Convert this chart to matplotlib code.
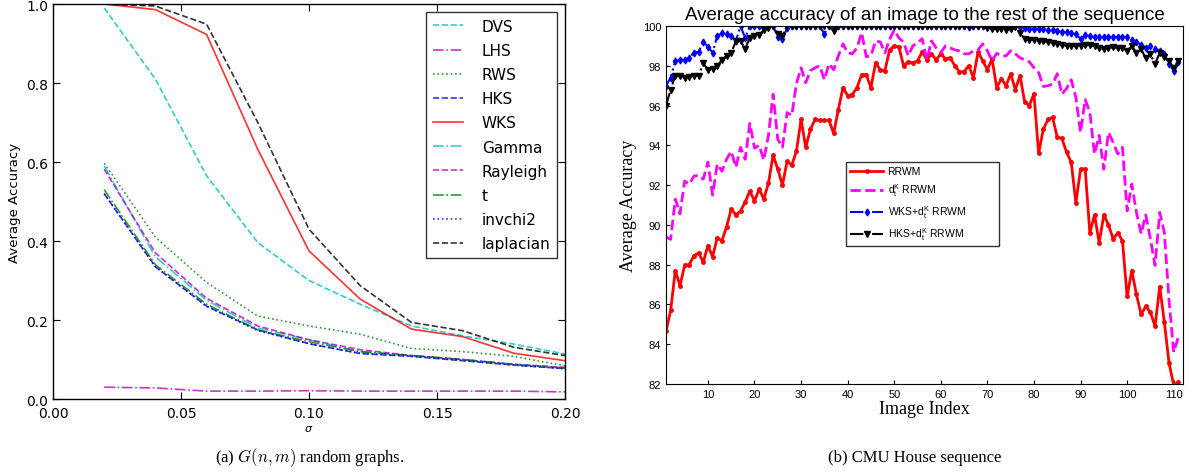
import numpy as np
import matplotlib
matplotlib.use('Agg')
import matplotlib.pyplot as plt

# ---- left panel data: G(n,m) random graphs ----
SIGMA = [0.02, 0.04, 0.06, 0.08, 0.10, 0.12, 0.14, 0.16, 0.18, 0.20]
DVS = [0.99, 0.81, 0.565, 0.396, 0.30, 0.24, 0.185, 0.16, 0.139, 0.114]
LHS = [0.030, 0.028, 0.020, 0.020, 0.021, 0.020, 0.020, 0.020, 0.020, 0.018]
RWS = [0.597, 0.41, 0.295, 0.21, 0.185, 0.164, 0.128, 0.12, 0.108, 0.084]
HKS = [0.52, 0.335, 0.235, 0.175, 0.14, 0.115, 0.108, 0.097, 0.086, 0.077]
WKS = [1.0, 0.986, 0.923, 0.632, 0.375, 0.253, 0.177, 0.158, 0.116, 0.097]
GAMMA = [0.59, 0.36, 0.25, 0.18, 0.15, 0.12, 0.11, 0.10, 0.088, 0.079]
RAYLEIGH = [0.582, 0.37, 0.255, 0.185, 0.15, 0.125, 0.11, 0.10, 0.088, 0.08]
T_DIST = [0.53, 0.34, 0.24, 0.175, 0.145, 0.12, 0.11, 0.10, 0.087, 0.078]
INVCHI2 = [0.52, 0.335, 0.235, 0.173, 0.14, 0.116, 0.109, 0.098, 0.086, 0.077]
LAPLACIAN = [1.0, 0.995, 0.949, 0.70, 0.43, 0.287, 0.194, 0.173, 0.131, 0.11]

# ---- right panel data: CMU House sequence, image index 1..111 ----
IMAGE_INDEX = list(range(1, 112))
RRWM = [84.65, 85.7, 87.7, 86.95, 87.96, 88.0, 88.46, 88.58, 88.13, 88.96,
        88.4, 89.35, 89.2, 89.9, 90.8, 90.5, 90.7, 91.15, 91.7, 91.2,
        91.8, 91.3, 92.1, 93.5, 92.8, 92.0, 93.2, 93.0, 93.7, 95.3,
        93.9, 94.8, 95.3, 95.25, 95.25, 95.25, 94.6, 95.8, 96.9, 96.5,
        96.55, 96.9, 97.55, 97.55, 96.9, 98.15, 97.8, 97.75, 98.8, 99.0,
        98.95, 98.0, 98.2, 98.15, 98.25, 98.7, 98.3, 98.6, 98.3, 98.6,
        98.35, 98.4, 98.0, 97.7, 97.7, 98.0, 97.4, 98.7, 98.25, 97.8,
        98.35, 96.9, 97.35, 97.0, 97.6, 96.8, 97.5, 96.2, 96.0, 96.6,
        93.6, 94.8, 95.3, 95.4, 94.4, 94.35, 93.65, 93.15, 91.1, 92.8,
        92.8, 89.6, 90.5, 89.1, 90.5, 90.0, 89.3, 89.6, 89.2, 86.4,
        87.7, 86.5, 85.5, 85.9, 85.6, 84.9, 86.9, 85.1, 83.05, 81.95,
        82.1]
DT_RRWM = [89.4, 89.27, 91.3, 90.55, 92.2, 92.05, 92.45, 92.5, 92.3, 93.15,
           91.5, 93.06, 92.7, 93.3, 93.7, 92.9, 93.9, 93.3, 95.1, 93.86,
           94.0, 93.26, 94.5, 96.57, 94.3, 93.9, 95.65, 95.5, 97.1, 97.9,
           97.15, 97.75, 97.9, 98.0, 97.3, 98.1, 97.8, 98.5, 99.1, 98.65,
           98.6, 98.9, 99.67, 98.46, 98.5, 99.25, 99.2, 98.65, 99.33, 99.8,
           99.4, 99.2, 98.5, 99.0, 99.16, 99.36, 98.3, 99.25, 98.9, 98.66,
           99.0, 98.9, 98.8, 98.75, 98.6, 98.6, 98.75, 98.8, 99.1, 98.75,
           98.25, 98.63, 98.5, 98.5, 98.75, 98.6, 98.4, 98.3, 98.2, 97.9,
           97.66, 96.96, 97.0, 97.07, 97.6, 96.57, 96.86, 97.3, 96.4, 94.65,
           96.3, 95.65, 93.56, 94.5, 92.8, 94.65, 94.15, 93.56, 93.9, 90.7,
           92.05, 90.63, 89.55, 90.5, 89.3, 87.96, 90.63, 89.6, 86.2, 83.6,
           84.36]
WKS_DT_RRWM = [97.0, 97.4, 98.24, 98.3, 98.3, 98.4, 98.66, 98.7, 99.2, 98.96,
               98.66, 99.5, 99.63, 99.6, 99.5, 99.25, 100.0, 99.4, 100.0, 100.0,
               100.0, 100.0, 100.0, 100.0, 99.45, 99.35, 99.9, 100.0, 100.0, 100.0,
               100.0, 100.0, 100.0, 100.0, 99.6, 100.0, 100.0, 100.0, 100.0, 100.0,
               100.0, 100.0, 100.0, 100.0, 100.0, 100.0, 100.0, 100.0, 100.0, 100.0,
               100.0, 100.0, 100.0, 100.0, 100.0, 100.0, 100.0, 100.0, 100.0, 100.0,
               100.0, 100.0, 100.0, 100.0, 100.0, 99.95, 100.0, 100.0, 100.0, 100.0,
               100.0, 99.97, 100.0, 100.0, 100.0, 100.0, 99.97, 99.9, 99.87, 99.87,
               99.87, 99.83, 99.8, 99.8, 99.75, 99.7, 99.7, 99.66, 99.58, 99.36,
               99.53, 99.5, 99.45, 99.45, 99.45, 99.45, 99.45, 99.45, 99.45, 99.45,
               99.3, 99.2, 99.05, 98.9, 99.0, 98.85, 98.75, 98.6, 98.1, 97.75,
               98.2]
HKS_DT_RRWM = [96.0, 96.8, 97.5, 97.5, 97.4, 97.45, 97.5, 97.5, 98.13, 97.8,
               97.86, 98.0, 98.3, 98.5, 98.63, 99.25, 99.25, 98.86, 99.4, 99.5,
               99.55, 99.8, 99.9, 100.0, 99.6, 99.5, 100.0, 100.0, 100.0, 100.0,
               100.0, 100.0, 100.0, 100.0, 100.0, 100.0, 99.75, 100.0, 100.0, 100.0,
               100.0, 100.0, 100.0, 100.0, 100.0, 100.0, 100.0, 100.0, 100.0, 100.0,
               100.0, 100.0, 100.0, 100.0, 100.0, 100.0, 100.0, 100.0, 100.0, 100.0,
               100.0, 100.0, 100.0, 100.0, 100.0, 100.0, 100.0, 100.0, 100.0, 99.9,
               99.87, 99.83, 99.87, 99.8, 99.83, 99.97, 99.66, 99.36, 99.3, 99.3,
               99.25, 99.23, 99.2, 99.16, 99.1, 99.06, 99.0, 99.0, 98.98, 99.0,
               99.03, 99.05, 98.98, 98.9, 98.83, 98.9, 98.93, 98.9, 98.9, 98.75,
               99.0, 98.66, 98.83, 98.4, 98.58, 98.08, 98.66, 98.46, 98.25, 97.9,
               98.25]

fig = plt.figure(figsize=(11.88, 4.77), dpi=100)

# ---------------- left panel ----------------
ax1 = fig.add_axes([0.0446, 0.1614, 0.431, 0.828])
ax1.plot(SIGMA, DVS, color='c', ls='--', lw=1.2, alpha=0.8, label='DVS')
ax1.plot(SIGMA, LHS, color='m', ls='-.', lw=1.2, alpha=0.8, label='LHS')
ax1.plot(SIGMA, RWS, color='g', ls=':', lw=1.2, alpha=0.8, label='RWS')
ax1.plot(SIGMA, HKS, color='b', ls='--', lw=1.2, alpha=0.8, label='HKS')
ax1.plot(SIGMA, WKS, color='r', ls='-', lw=1.2, alpha=0.8, label='WKS')
ax1.plot(SIGMA, GAMMA, color='c', ls='-.', lw=1.2, alpha=0.8, label='Gamma')
ax1.plot(SIGMA, RAYLEIGH, color='m', ls='--', lw=1.2, alpha=0.8, label='Rayleigh')
ax1.plot(SIGMA, T_DIST, color='g', ls='-.', lw=1.2, alpha=0.8, label='t')
ax1.plot(SIGMA, INVCHI2, color='b', ls=':', lw=1.2, alpha=0.8, label='invchi2')
ax1.plot(SIGMA, LAPLACIAN, color='k', ls='--', lw=1.2, alpha=0.8, label='laplacian')
ax1.set_xlim(0, 0.2)
ax1.set_ylim(0, 1.0)
ax1.set_xticks([0.0, 0.05, 0.10, 0.15, 0.20])
ax1.set_xticklabels(['0.00', '0.05', '0.10', '0.15', '0.20'])
ax1.set_yticks([0.0, 0.2, 0.4, 0.6, 0.8, 1.0])
ax1.tick_params(direction='in', top=True, right=True, labelsize=10, length=5)
ax1.tick_params(axis='x', pad=5)
for sp in ax1.spines.values():
    sp.set_linewidth(1.0)
ax1.set_xlabel(r'$\sigma$', fontsize=8, labelpad=2)
ax1.set_ylabel('Average Accuracy', fontsize=9.5, labelpad=4)
leg1 = ax1.legend(loc='upper right', fontsize=11, handlelength=2.0,
                  handletextpad=1.2, labelspacing=0.6, borderpad=0.45,
                  fancybox=False, bbox_to_anchor=(0.985, 0.98), borderaxespad=0)
leg1.get_frame().set_edgecolor('black')
leg1.get_frame().set_linewidth(1.0)

# ---------------- right panel ----------------
ax2 = fig.add_axes([0.5606, 0.1929, 0.4352, 0.7505])
ax2.plot(IMAGE_INDEX, RRWM, color='red', ls='-', lw=2, marker='.', ms=5,
         label='RRWM')
ax2.plot(IMAGE_INDEX, DT_RRWM, color='magenta', ls='--', lw=2,
         label=r'$\mathregular{d_t^K}$ RRWM')
ax2.plot(IMAGE_INDEX, WKS_DT_RRWM, color='blue', ls='-.', lw=1.5, marker='d',
         ms=3.5, label=r'WKS+$\mathregular{d_t^K}$ RRWM')
ax2.plot(IMAGE_INDEX, HKS_DT_RRWM, color='black', ls='-.', lw=1.5, marker='v',
         ms=4, label=r'HKS+$\mathregular{d_t^K}$ RRWM')
ax2.set_xlim(1, 112)
ax2.set_ylim(82, 100)
ax2.set_xticks(range(10, 111, 10))
ax2.set_yticks(range(82, 101, 2))
ax2.tick_params(direction='in', labelsize=8, length=3)
for lab in ax2.get_xticklabels() + ax2.get_yticklabels():
    lab.set_family('Liberation Sans')
ax2.set_xlabel('Image Index', fontsize=13, family='Liberation Serif', labelpad=1)
ax2.set_ylabel('Average Accuracy', fontsize=13, family='Liberation Serif', labelpad=4)
ax2.set_title('Average accuracy of an image to the rest of the sequence',
              fontsize=13.5, family='Liberation Sans', pad=5)
leg2 = ax2.legend(loc='upper left', bbox_to_anchor=(0.348, 0.383, 0.296, 0.237),
                  mode='expand', borderaxespad=0,
                  prop={'family': 'Liberation Sans', 'size': 7.5},
                  handlelength=3.2, handletextpad=0.4, labelspacing=0.5,
                  fancybox=False, borderpad=0.4)
leg2.get_frame().set_edgecolor('black')
leg2.get_frame().set_linewidth(1.0)

# ---------------- captions ----------------
fig.text(0.261, 0.04, r'(a) $G(n, m)$ random graphs.', ha='center', va='center',
         fontsize=12, family='Liberation Serif', math_fontfamily='cm')
fig.text(0.77, 0.04, '(b) CMU House sequence', ha='center', va='center',
         fontsize=12, family='Liberation Serif')

fig.savefig('out.png', dpi=100)
